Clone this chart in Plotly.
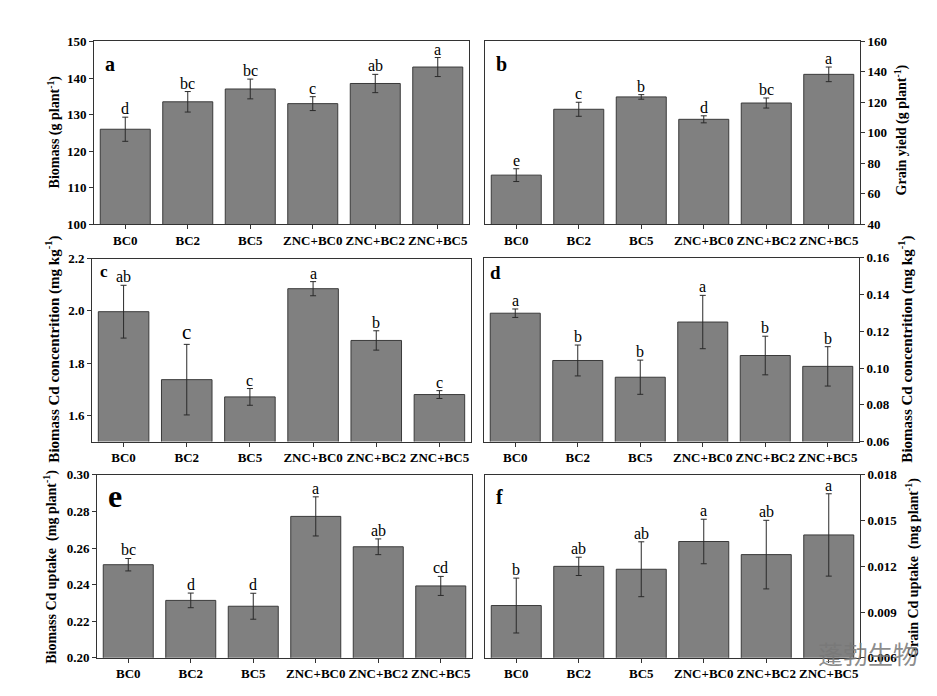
import plotly.graph_objects as go

W, H = 937, 696

categories = ["BC0", "BC2", "BC5", "ZNC+BC0", "ZNC+BC2", "ZNC+BC5"]

biomass = [126.0, 133.5, 137.0, 133.0, 138.5, 143.0]
biomass_err = [3.3, 2.8, 2.7, 1.9, 2.5, 2.6]
biomass_letters = ["d", "bc", "bc", "c", "ab", "a"]

grain_yield = [72.3, 115.5, 123.6, 108.9, 119.6, 138.4]
grain_yield_err = [4.2, 4.6, 1.5, 2.3, 3.3, 4.8]
grain_yield_letters = ["e", "c", "b", "d", "bc", "a"]

biomass_cd = [1.997, 1.737, 1.671, 2.085, 1.887, 1.680]
biomass_cd_err = [0.101, 0.135, 0.032, 0.027, 0.037, 0.015]
biomass_cd_letters = ["ab", "c", "c", "a", "b", "c"]

grain_cd = [0.1298, 0.1041, 0.0950, 0.1250, 0.1068, 0.1009]
grain_cd_err = [0.0023, 0.0084, 0.0093, 0.0145, 0.0105, 0.0107]
grain_cd_letters = ["a", "b", "b", "a", "b", "b"]

biomass_uptake = [0.2509, 0.2314, 0.2282, 0.2773, 0.2607, 0.2393]
biomass_uptake_err = [0.0034, 0.0040, 0.0071, 0.0107, 0.0043, 0.0052]
biomass_uptake_letters = ["bc", "d", "d", "a", "ab", "cd"]

grain_uptake = [0.00943, 0.01200, 0.01181, 0.01363, 0.01277, 0.01406]
grain_uptake_err = [0.0018, 0.0006, 0.0018, 0.00146, 0.00225, 0.0027]
grain_uptake_letters = ["b", "ab", "ab", "a", "ab", "a"]

FONT = "Liberation Serif"

panels = [
    dict(lab="a", v=biomass, e=biomass_err, L=biomass_letters, rng=[100, 150],
         tv=[100, 110, 120, 130, 140, 150], fmt="d", side="left",
         title="Biomass (g plant<sup>-1</sup>)", box=(86, 461, 27, 214),
         tpos=(46, 120), tsize=14, lpos=(102, 50), lsize=20),
    dict(lab="b", v=grain_yield, e=grain_yield_err, L=grain_yield_letters, rng=[40, 160],
         tv=[40, 60, 80, 100, 120, 140, 160], fmt="d", side="right",
         title="Grain yield (g plant<sup>-1</sup>)", box=(477, 852, 27, 214),
         tpos=(893, 118), tsize=14, lpos=(493, 50), lsize=20),
    dict(lab="c", v=biomass_cd, e=biomass_cd_err, L=biomass_cd_letters, rng=[1.5, 2.2],
         tv=[1.6, 1.8, 2.0, 2.2], fmt=".1f", side="left",
         title="Biomass Cd concentrition (mg kg<sup>-1</sup>)", box=(84, 463, 249, 436),
         tpos=(45, 342), tsize=15, lpos=(96, 262), lsize=17),
    dict(lab="d", v=grain_cd, e=grain_cd_err, L=grain_cd_letters, rng=[0.06, 0.16],
         tv=[0.06, 0.08, 0.10, 0.12, 0.14, 0.16], fmt=".2f", side="right",
         title="Biomass Cd concentrition (mg kg<sup>-1</sup>)", box=(476, 851, 248, 436),
         tpos=(898, 342), tsize=15, lpos=(487, 263), lsize=19),
    dict(lab="e", v=biomass_uptake, e=biomass_uptake_err, L=biomass_uptake_letters, rng=[0.20, 0.30],
         tv=[0.20, 0.22, 0.24, 0.26, 0.28, 0.30], fmt=".2f", side="left",
         title="Biomass Cd uptake  (mg plant<sup>-1</sup>)", box=(89, 464, 470, 657),
         tpos=(43, 564), tsize=14, lpos=(107, 492), lsize=32),
    dict(lab="f", v=grain_uptake, e=grain_uptake_err, L=grain_uptake_letters, rng=[0.006, 0.018],
         tv=[0.006, 0.009, 0.012, 0.015, 0.018], fmt=".3f", side="right",
         title="Grain Cd uptake  (mg plant<sup>-1</sup>)", box=(477, 852, 470, 657),
         tpos=(905, 565), tsize=14, lpos=(491, 493), lsize=20),
]

fig = go.Figure()
annotations = []
layout = {}

for i, p in enumerate(panels, start=1):
    xa = "x" if i == 1 else f"x{i}"
    ya = "y" if i == 1 else f"y{i}"
    fig.add_trace(go.Bar(
        x=categories, y=p["v"], xaxis=xa, yaxis=ya, width=0.8,
        marker=dict(color="#808080", line=dict(color="#3a3a3a", width=1)),
        error_y=dict(type="data", array=p["e"], visible=True,
                     color="#2a2a2a", thickness=1, width=3),
        showlegend=False,
    ))
    x0, x1, y0, y1 = p["box"]
    axis_common = dict(showline=True, linecolor="#333333", linewidth=1, mirror=True,
                       ticks="outside", ticklen=4, tickcolor="#333333", showgrid=False,
                       zeroline=False,
                       tickfont=dict(family=FONT, size=13, color="black", weight="bold"))
    layout["xaxis" if i == 1 else f"xaxis{i}"] = dict(
        domain=[x0 / W, x1 / W], anchor=ya, type="category", **axis_common)
    layout["yaxis" if i == 1 else f"yaxis{i}"] = dict(
        domain=[1 - y1 / H, 1 - y0 / H], anchor=xa, range=p["rng"],
        tickvals=p["tv"], tickformat=p["fmt"], side=p["side"], **axis_common)
    for c, v, e, L in zip(categories, p["v"], p["e"], p["L"]):
        size = 16
        if p["lab"] == "c" and c == "BC2":
            size = 21
        annotations.append(dict(x=c, y=v + e, xref=xa, yref=ya, text=L, showarrow=False,
                                yanchor="bottom", yshift=-2,
                                font=dict(family=FONT, size=size, color="black")))
    annotations.append(dict(x=p["lpos"][0] / W, y=1 - p["lpos"][1] / H, xref="paper", yref="paper",
                            text=p["lab"], showarrow=False, xanchor="center", yanchor="middle",
                            font=dict(family=FONT, size=p["lsize"], color="black", weight="bold")))
    annotations.append(dict(x=p["tpos"][0] / W, y=1 - p["tpos"][1] / H, xref="paper", yref="paper",
                            text=p["title"], showarrow=False, textangle=-90,
                            xanchor="center", yanchor="middle",
                            font=dict(family=FONT, size=p["tsize"], color="black", weight="bold")))

# watermark
annotations.append(dict(x=860 / W, y=1 - 652 / H, xref="paper", yref="paper", text="蓬勃生物",
                        showarrow=False, xanchor="center", yanchor="middle",
                        font=dict(family="Noto Sans CJK SC", size=25, color="rgba(120,120,120,0.85)")))

fig.update_layout(width=W, height=H, margin=dict(l=0, r=0, t=0, b=0),
                  paper_bgcolor="white", plot_bgcolor="white",
                  bargap=0.2, annotations=annotations, **layout)

fig.write_html("out.html")
